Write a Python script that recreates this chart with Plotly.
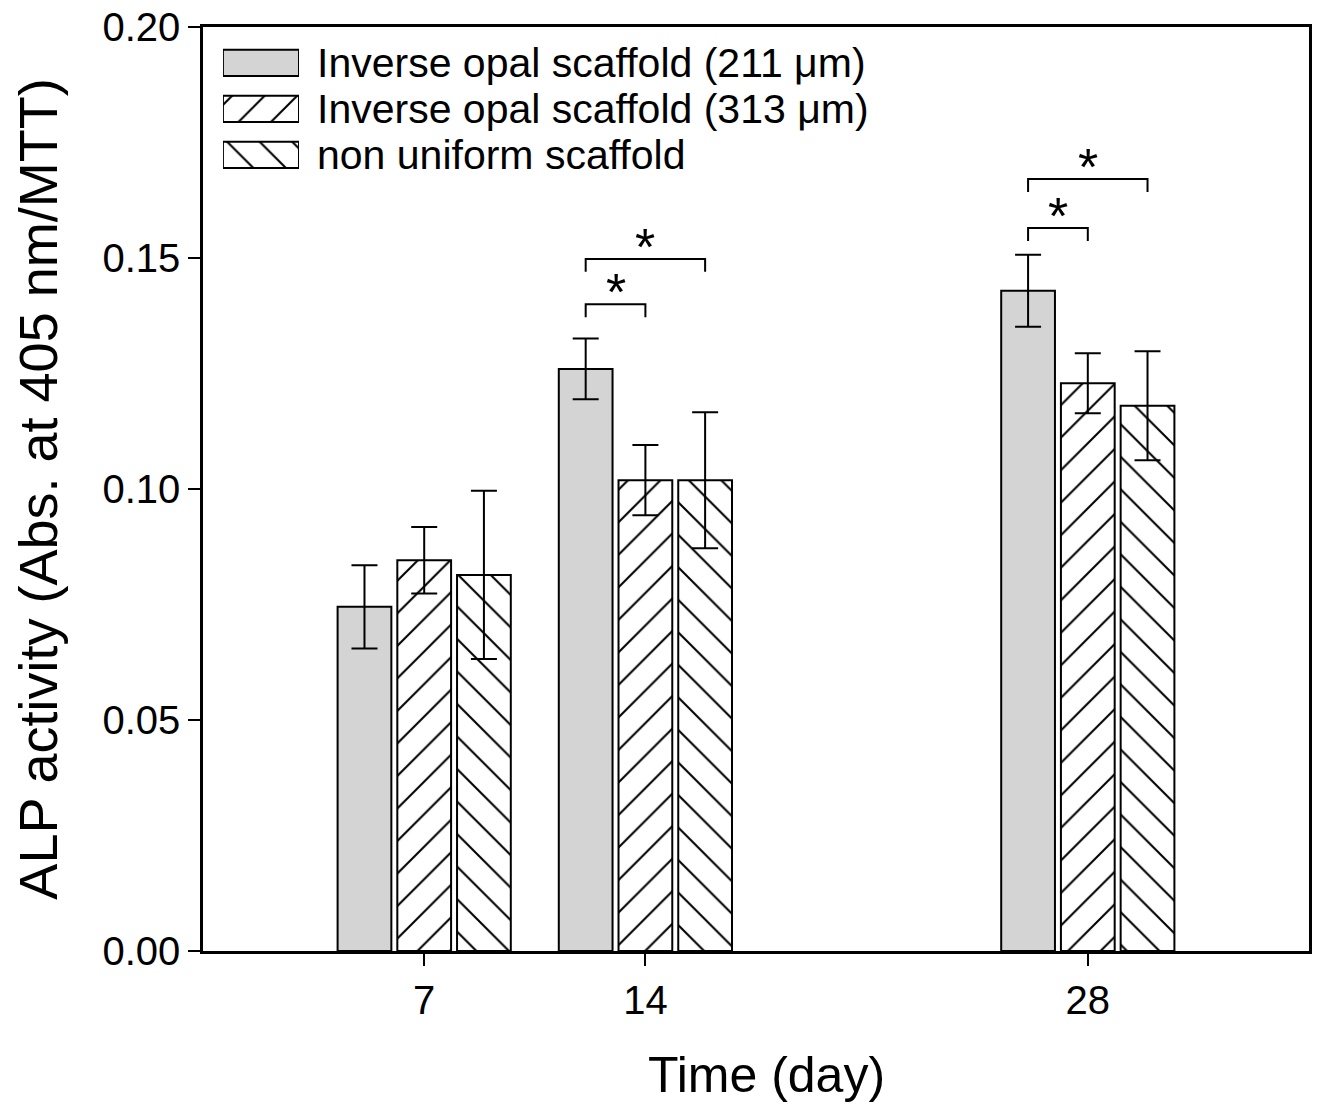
import plotly.graph_objects as go

# ---------------- data ----------------
days = [7, 14, 28]
series_names = [
    "Inverse opal scaffold (211 μm)",
    "Inverse opal scaffold (313 μm)",
    "non uniform scaffold",
]
mean_211 = [0.0745, 0.1260, 0.1429]
err_211 = [0.0090, 0.0066, 0.0078]
mean_313 = [0.0846, 0.1019, 0.1229]
err_313 = [0.0072, 0.0076, 0.0065]
mean_nonuni = [0.0814, 0.1019, 0.1180]
err_nonuni = [0.0182, 0.0147, 0.0118]
y_tick_vals = [0.00, 0.05, 0.10, 0.15, 0.20]
x_tick_vals = [7, 14, 28]
x_title = "Time (day)"
y_title = "ALP activity (Abs. at 405 nm/MTT)"

# significance brackets: day, first series index, second series index, level
sig_day = [14, 14, 28, 28]
sig_from = [0, 0, 0, 0]
sig_to = [1, 2, 1, 2]
sig_level = [0.1400, 0.1498, 0.1565, 0.1671]
sig_label = ["*", "*", "*", "*"]

# ---------------- style ----------------
FONT = "Liberation Sans, Arial, sans-serif"
fills = ["#d4d4d4", "white", "white"]
patterns = ["", "/", "\\"]
BARGAP = 0.19
BARGROUPGAP = 0.10
PAT_SIZE = 23
PAT_SOLID = 0.09
SWATCH_W = 0.57

means = [mean_211, mean_313, mean_nonuni]
errs = [err_211, err_313, err_nonuni]


def bar_marker(i):
    m = dict(color=fills[i], line=dict(color="black", width=2))
    if patterns[i]:
        m["pattern"] = dict(shape=patterns[i], fgcolor="black", bgcolor=fills[i],
                            size=PAT_SIZE, solidity=PAT_SOLID, fillmode="replace")
    return m


fig = go.Figure()
for i, name in enumerate(series_names):
    fig.add_trace(go.Bar(
        x=days, y=means[i], name=name, showlegend=False,
        marker=bar_marker(i),
        error_y=dict(type="data", array=errs[i], visible=True, color="black",
                     thickness=2, width=13),
    ))

# custom legend swatches (one small bar per series on a hidden inset axis)
for i, name in enumerate(series_names):
    fig.add_trace(go.Bar(
        x=[1], y=[name], orientation="h", xaxis="x2", yaxis="y2",
        showlegend=False, width=SWATCH_W, offset=-SWATCH_W / 2, hoverinfo="skip",
        marker=bar_marker(i),
    ))

# significance brackets
n_series = len(series_names)
span = min(b - a for a, b in zip(days[:-1], days[1:]))
slot = span * (1 - BARGAP) / n_series
LEG = 0.0028
shapes = []
annotations = []
for d, a, b, lvl, lab in zip(sig_day, sig_from, sig_to, sig_level, sig_label):
    xa = d + (a - (n_series - 1) / 2) * slot
    xb = d + (b - (n_series - 1) / 2) * slot
    shapes.append(dict(
        type="path", xref="x", yref="y",
        path=f"M{xa},{lvl - LEG} L{xa},{lvl} L{xb},{lvl} L{xb},{lvl - LEG}",
        line=dict(color="black", width=2),
    ))
    annotations.append(dict(
        x=(xa + xb) / 2, y=lvl, xref="x", yref="y", text=lab, showarrow=False,
        yanchor="bottom", yshift=-19, font=dict(family=FONT, size=52, color="black"),
    ))

# x-axis title (slightly right of centre, as in the original)
annotations.append(dict(
    x=0.5, y=0, xref="paper", yref="paper", text=x_title, showarrow=False,
    xanchor="center", yanchor="middle", xshift=10, yshift=-124,
    font=dict(family=FONT, size=50, color="black"),
))

# the page body adds an 8 px offset, compensated in the margins
fig.update_layout(
    width=1321, height=1104,
    margin=dict(l=195, r=20, t=19, b=161, autoexpand=False),
    paper_bgcolor="white", plot_bgcolor="white",
    barmode="group", bargap=BARGAP, bargroupgap=BARGROUPGAP,
    font=dict(family=FONT, color="black"),
    shapes=shapes, annotations=annotations,
    xaxis=dict(
        range=[0, 35], tickvals=x_tick_vals, ticks="outside", ticklen=12,
        tickwidth=2, tickcolor="black", showline=True, linewidth=2.5,
        linecolor="black", mirror=True, showgrid=False, zeroline=False,
        automargin=False, ticklabeloverflow="allow",
        tickfont=dict(size=40, family=FONT),
    ),
    yaxis=dict(
        range=[0, 0.2], tickvals=y_tick_vals, tickformat=".2f", ticks="outside",
        ticklen=12, tickwidth=2, tickcolor="black", showline=True, linewidth=2.5,
        linecolor="black", mirror=True, showgrid=False, zeroline=False,
        automargin=False, ticklabeloverflow="allow",
        tickfont=dict(size=40, family=FONT),
        title=dict(text=y_title, font=dict(size=54, family=FONT), standoff=29),
    ),
    xaxis2=dict(domain=[0.018, 0.0868], range=[0, 1], anchor="y2",
                visible=False, fixedrange=True, automargin=False),
    yaxis2=dict(domain=[0.8366, 0.986], anchor="x2", side="right",
                autorange="reversed", showline=False, showgrid=False,
                zeroline=False, ticks="", ticklabelstandoff=17, automargin=False,
                ticklabeloverflow="allow",
                tickmode="array", tickvals=series_names, ticktext=series_names,
                tickfont=dict(size=41, family=FONT), fixedrange=True),
)

fig.write_html("out.html")
